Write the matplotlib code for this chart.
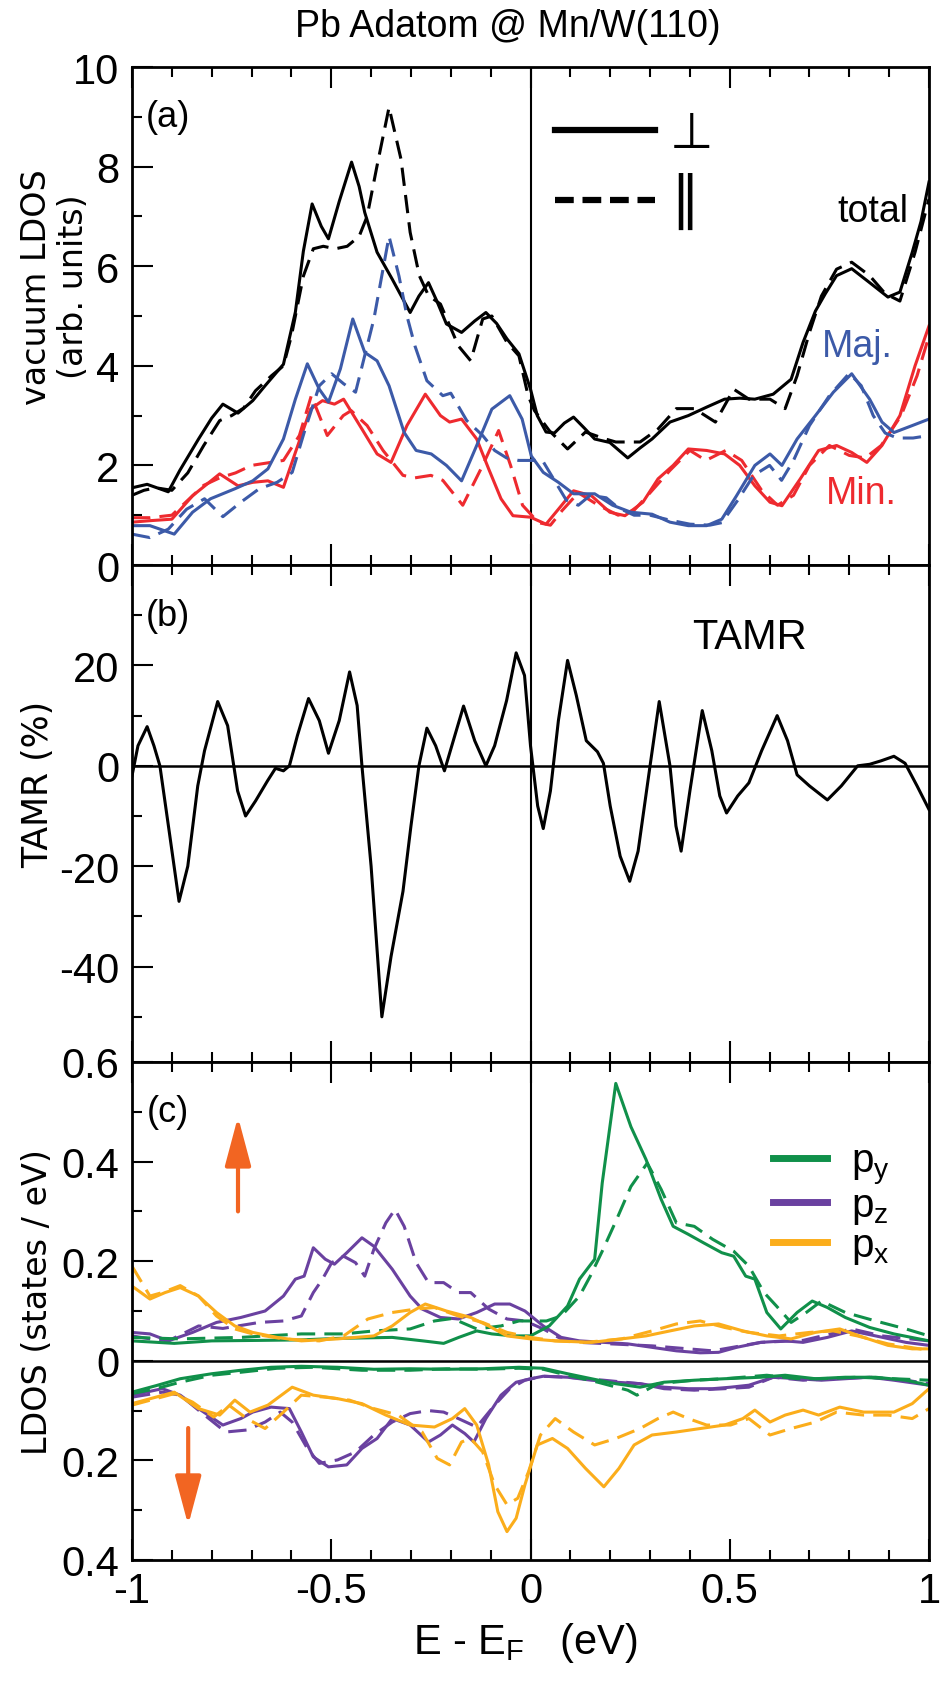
import numpy as np
import matplotlib
matplotlib.use("Agg")
import matplotlib.pyplot as plt
from matplotlib.lines import Line2D
from matplotlib.ticker import MultipleLocator, FixedLocator, FuncFormatter

plt.rcParams['font.family'] = ['Liberation Sans Narrow', 'Liberation Sans', 'DejaVu Sans']
plt.rcParams['mathtext.default'] = 'regular'
plt.rcParams['axes.unicode_minus'] = False

# ---------------- panel (a): vacuum LDOS ----------------
E_tot_perp = [-1.0, -0.962, -0.909, -0.88, -0.833, -0.80, -0.772, -0.734, -0.697, -0.666, -0.62, -0.59, -0.57,
              -0.548, -0.525, -0.507, -0.48, -0.449, -0.43, -0.416, -0.385, -0.347, -0.302, -0.28, -0.256, -0.235,
              -0.211, -0.173, -0.14, -0.112, -0.085, -0.059, -0.029, 0.0, 0.017, 0.039, 0.06, 0.085, 0.108, 0.135,
              0.161, 0.199, 0.244, 0.275, 0.305, 0.35, 0.396, 0.442, 0.487, 0.525, 0.563, 0.609, 0.654, 0.684,
              0.715, 0.74, 0.768, 0.806, 0.851, 0.897, 0.927, 0.958, 0.98, 1.0]
tot_perp = [1.55, 1.62, 1.47, 1.9, 2.53, 2.95, 3.23, 3.05, 3.3, 3.6, 4.03, 5.08, 6.3, 7.25, 6.8, 6.55, 7.3, 8.09,
            7.6, 7.08, 6.28, 5.74, 5.07, 5.4, 5.67, 5.3, 4.84, 4.67, 4.9, 5.07, 4.85, 4.54, 4.24, 3.53, 3.0, 2.67,
            2.65, 2.85, 2.97, 2.75, 2.53, 2.46, 2.15, 2.35, 2.53, 2.87, 3.0, 3.17, 3.33, 3.35, 3.33, 3.43, 3.73,
            4.47, 5.1, 5.45, 5.81, 5.95, 5.67, 5.38, 5.48, 6.28, 6.9, 7.69]

E_tot_par = [-1.0, -0.97, -0.94, -0.90, -0.86, -0.82, -0.78, -0.75, -0.72, -0.69, -0.65, -0.62, -0.60, -0.57,
             -0.545, -0.52, -0.49, -0.46, -0.43, -0.41, -0.385, -0.355, -0.325, -0.302, -0.279, -0.256, -0.226,
             -0.181, -0.15, -0.12, -0.097, -0.059, -0.029, -0.006, 0.01, 0.047, 0.093, 0.138, 0.184, 0.214, 0.275,
             0.32, 0.366, 0.411, 0.464, 0.51, 0.548, 0.601, 0.639, 0.669, 0.70, 0.73, 0.768, 0.806, 0.851, 0.89,
             0.927, 0.965, 1.0]
tot_par = [1.4, 1.5, 1.55, 1.5, 1.85, 2.4, 2.9, 3.0, 3.15, 3.5, 3.8, 4.0, 4.6, 5.8, 6.35, 6.4, 6.35, 6.4, 6.6,
           7.0, 8.02, 9.19, 8.15, 6.68, 5.81, 5.41, 5.24, 4.4, 4.1, 4.94, 5.0, 4.47, 4.2, 3.4, 3.1, 2.7, 2.33,
           2.67, 2.54, 2.47, 2.47, 2.73, 3.14, 3.14, 2.87, 3.53, 3.33, 3.33, 3.14, 3.8, 4.67, 5.4, 5.94, 6.08,
           5.81, 5.45, 5.3, 6.28, 7.35]

E_maj_perp = [-1.0, -0.955, -0.894, -0.848, -0.803, -0.742, -0.697, -0.659, -0.62, -0.59, -0.56, -0.53, -0.507,
              -0.477, -0.446, -0.416, -0.385, -0.355, -0.317, -0.287, -0.249, -0.211, -0.173, -0.135, -0.097,
              -0.052, -0.021, 0.002, 0.032, 0.07, 0.108, 0.161, 0.206, 0.252, 0.305, 0.35, 0.396, 0.442, 0.48,
              0.517, 0.563, 0.601, 0.631, 0.669, 0.715, 0.76, 0.806, 0.851, 0.882, 0.912, 0.958, 1.0]
maj_perp = [0.79, 0.79, 0.62, 1.06, 1.33, 1.53, 1.69, 1.93, 2.53, 3.33, 4.04, 3.53, 3.27, 3.94, 4.94, 4.27, 4.1,
            3.6, 2.66, 2.3, 2.23, 2.0, 1.69, 2.4, 3.13, 3.4, 2.93, 2.19, 1.86, 1.66, 1.43, 1.43, 1.2, 1.06, 1.02,
            0.86, 0.79, 0.79, 0.92, 1.39, 2.0, 2.23, 2.0, 2.53, 3.0, 3.47, 3.84, 3.33, 2.87, 2.66, 2.8, 2.93]

E_maj_par = [-1.0, -0.955, -0.909, -0.863, -0.818, -0.772, -0.727, -0.681, -0.636, -0.598, -0.568, -0.53, -0.499,
             -0.469, -0.439, -0.393, -0.355, -0.33, -0.31, -0.29, -0.26, -0.22, -0.20, -0.16, -0.12, -0.09, -0.06,
             -0.03, 0.0, 0.03, 0.06, 0.09, 0.12, 0.15, 0.19, 0.22, 0.26, 0.30, 0.35, 0.40, 0.45, 0.48, 0.52, 0.56,
             0.60, 0.63, 0.66, 0.70, 0.75, 0.80, 0.83, 0.86, 0.89, 0.92, 0.96, 1.0]
maj_par = [0.62, 0.55, 0.72, 1.12, 1.33, 0.97, 1.26, 1.53, 1.66, 1.86, 2.66, 3.6, 3.84, 3.64, 3.47, 4.94, 6.6,
           5.8, 5.0, 4.4, 3.7, 3.4, 3.45, 2.9, 2.6, 2.3, 2.15, 2.1, 2.1, 2.1, 1.7, 1.3, 1.2, 1.4, 1.35, 1.15, 1.0,
           1.0, 0.9, 0.82, 0.8, 0.85, 1.3, 1.8, 2.0, 1.7, 2.1, 2.8, 3.4, 3.85, 3.6, 3.0, 2.65, 2.55, 2.55, 2.6]

E_min_perp = [-1.0, -0.955, -0.90, -0.848, -0.78, -0.734, -0.697, -0.659, -0.62, -0.59, -0.552, -0.522, -0.492,
              -0.469, -0.423, -0.385, -0.35, -0.31, -0.264, -0.226, -0.203, -0.173, -0.135, -0.105, -0.074,
              -0.044, 0.0, 0.039, 0.07, 0.108, 0.153, 0.199, 0.237, 0.282, 0.32, 0.358, 0.396, 0.442, 0.487,
              0.525, 0.563, 0.601, 0.631, 0.677, 0.723, 0.768, 0.806, 0.844, 0.882, 0.927, 0.965, 1.0]
min_perp = [0.86, 0.89, 0.92, 1.39, 1.83, 1.59, 1.66, 1.69, 1.56, 2.26, 3.13, 3.3, 3.23, 3.33, 2.73, 2.23, 2.06,
            2.8, 3.43, 3.0, 2.87, 2.93, 2.53, 1.93, 1.33, 0.99, 0.96, 0.82, 1.12, 1.49, 1.39, 1.06, 0.99, 1.26,
            1.73, 2.0, 2.33, 2.3, 2.23, 2.0, 1.59, 1.26, 1.19, 1.73, 2.3, 2.4, 2.26, 2.06, 2.4, 3.0, 4.0, 4.8]

E_min_par = [-1.0, -0.955, -0.90, -0.86, -0.82, -0.78, -0.74, -0.70, -0.66, -0.62, -0.58, -0.55, -0.51, -0.47,
             -0.45, -0.41, -0.37, -0.32, -0.29, -0.25, -0.22, -0.17, -0.12, -0.08, -0.05, -0.02, 0.02, 0.05, 0.08,
             0.12, 0.17, 0.22, 0.26, 0.30, 0.35, 0.40, 0.44, 0.49, 0.53, 0.58, 0.62, 0.66, 0.70, 0.75, 0.80, 0.84,
             0.88, 0.93, 0.97, 1.0]
min_par = [0.95, 0.95, 1.0, 1.3, 1.6, 1.75, 1.85, 2.0, 2.05, 2.1, 2.6, 3.4, 2.6, 3.0, 3.1, 2.8, 2.3, 1.8, 1.75,
           1.8, 1.7, 1.2, 2.0, 2.7, 2.0, 1.2, 0.85, 0.8, 1.1, 1.45, 1.2, 1.0, 1.1, 1.45, 1.9, 2.3, 2.1, 2.3, 2.1,
           1.5, 1.2, 1.4, 2.0, 2.4, 2.2, 2.15, 2.4, 3.0, 3.8, 4.6]

# ---------------- panel (b): TAMR ----------------
E_tamr = [-1.0, -0.985, -0.962, -0.945, -0.93, -0.905, -0.882, -0.86, -0.835, -0.818, -0.785, -0.76, -0.735,
          -0.715, -0.69, -0.66, -0.64, -0.62, -0.605, -0.585, -0.557, -0.53, -0.507, -0.48, -0.454, -0.435,
          -0.423, -0.40, -0.373, -0.35, -0.32, -0.30, -0.28, -0.26, -0.238, -0.216, -0.19, -0.168, -0.14, -0.112,
          -0.09, -0.06, -0.036, -0.015, 0.0, 0.018, 0.032, 0.05, 0.07, 0.093, 0.115, 0.14, 0.168, 0.183, 0.20,
          0.225, 0.249, 0.27, 0.30, 0.323, 0.35, 0.365, 0.378, 0.40, 0.431, 0.455, 0.475, 0.492, 0.52, 0.548,
          0.58, 0.619, 0.645, 0.669, 0.70, 0.745, 0.78, 0.821, 0.851, 0.88, 0.912, 0.94, 0.97, 1.0]
tamr = [-2, 4, 7.8, 4, 0, -14, -27, -20, -4, 3, 12.8, 8, -5, -10, -7, -3, -0.5, -1, 0, 6, 13.4, 9, 2.5, 9, 18.7,
        12, 0, -20, -50, -38, -25, -12, 0, 7.5, 4, -1, 6, 11.9, 5, 0, 4, 13, 22.5, 18, 4, -8, -12.5, -5, 9, 21,
        14, 5, 2.8, 0.5, -8, -18, -23, -17, 0, 12.8, 0, -12, -17, -5, 11, 3, -6, -9.4, -6, -3.4, 3, 10, 5, -1.8,
        -4, -6.8, -4, 0, 0.3, 1, 1.9, 0.5, -4, -8.7]

# ---------------- panel (c): Pb p-orbital LDOS ----------------
E_py_up_perp = [-1.0, -0.894, -0.80, -0.68, -0.575, -0.484, -0.347, -0.27, -0.218, -0.18, -0.135, -0.097, -0.044,
                0.0, 0.047, 0.093, 0.123, 0.161, 0.18, 0.214, 0.252, 0.29, 0.328, 0.358, 0.396, 0.434, 0.48, 0.51,
                0.54, 0.563, 0.593, 0.628, 0.669, 0.707, 0.745, 0.79, 0.851, 0.912, 1.0]
py_up_perp = [0.04, 0.035, 0.04, 0.041, 0.042, 0.045, 0.047, 0.04, 0.035, 0.047, 0.06, 0.054, 0.05, 0.05, 0.07,
              0.11, 0.164, 0.204, 0.357, 0.557, 0.47, 0.404, 0.324, 0.27, 0.254, 0.237, 0.217, 0.21, 0.17, 0.164,
              0.097, 0.064, 0.097, 0.12, 0.107, 0.087, 0.067, 0.054, 0.04]

E_py_up_par = [-1.0, -0.88, -0.727, -0.575, -0.469, -0.393, -0.302, -0.241, -0.196, -0.135, -0.074, -0.029, 0.0,
               0.04, 0.077, 0.123, 0.15, 0.18, 0.214, 0.252, 0.293, 0.328, 0.366, 0.411, 0.457, 0.51, 0.548, 0.586,
               0.616, 0.654, 0.692, 0.73, 0.79, 0.866, 0.942, 1.0]
py_up_par = [0.047, 0.044, 0.047, 0.054, 0.054, 0.06, 0.064, 0.08, 0.085, 0.064, 0.07, 0.08, 0.08, 0.08, 0.09,
             0.13, 0.17, 0.22, 0.28, 0.35, 0.397, 0.344, 0.277, 0.27, 0.244, 0.22, 0.19, 0.137, 0.111, 0.077,
             0.097, 0.12, 0.097, 0.08, 0.064, 0.05]

E_pz_up_perp = [-1.0, -0.955, -0.909, -0.848, -0.788, -0.727, -0.666, -0.62, -0.59, -0.568, -0.545, -0.515,
                -0.492, -0.461, -0.423, -0.393, -0.347, -0.302, -0.272, -0.226, -0.181, -0.135, -0.09, -0.052,
                -0.014, 0.032, 0.077, 0.123, 0.184, 0.244, 0.305, 0.366, 0.426, 0.472, 0.517, 0.578, 0.639, 0.684,
                0.745, 0.806, 0.866, 0.942, 1.0]
pz_up_perp = [0.057, 0.054, 0.04, 0.057, 0.077, 0.087, 0.1, 0.13, 0.164, 0.17, 0.227, 0.204, 0.194, 0.217, 0.247,
              0.23, 0.184, 0.13, 0.104, 0.087, 0.084, 0.097, 0.114, 0.114, 0.1, 0.07, 0.047, 0.04, 0.037, 0.034,
              0.027, 0.02, 0.016, 0.017, 0.027, 0.037, 0.04, 0.037, 0.047, 0.06, 0.05, 0.037, 0.031]

E_pz_up_par = [-1.0, -0.955, -0.909, -0.833, -0.772, -0.681, -0.62, -0.575, -0.545, -0.522, -0.499, -0.469,
               -0.439, -0.416, -0.393, -0.363, -0.34, -0.317, -0.287, -0.256, -0.218, -0.181, -0.15, -0.105,
               -0.059, -0.014, 0.032, 0.077, 0.123, 0.305, 0.457, 0.578, 0.684, 0.806, 0.882, 1.0]
pz_up_par = [0.05, 0.044, 0.04, 0.07, 0.065, 0.077, 0.08, 0.09, 0.137, 0.164, 0.197, 0.21, 0.197, 0.17, 0.224,
             0.277, 0.304, 0.27, 0.197, 0.157, 0.157, 0.137, 0.137, 0.104, 0.084, 0.08, 0.064, 0.044, 0.037,
             0.03, 0.02, 0.037, 0.041, 0.064, 0.05, 0.04]

E_px_up_perp = [-1.0, -0.955, -0.917, -0.879, -0.833, -0.788, -0.742, -0.697, -0.636, -0.575, -0.484, -0.393,
                -0.347, -0.302, -0.264, -0.211, -0.15, -0.105, -0.059, 0.0, 0.062, 0.153, 0.229, 0.29, 0.35, 0.411,
                0.472, 0.533, 0.593, 0.654, 0.715, 0.776, 0.836, 0.897, 0.958, 1.0]
px_up_perp = [0.15, 0.124, 0.137, 0.147, 0.13, 0.097, 0.07, 0.057, 0.047, 0.04, 0.044, 0.05, 0.07, 0.097, 0.114,
              0.1, 0.087, 0.07, 0.05, 0.044, 0.04, 0.037, 0.044, 0.05, 0.06, 0.07, 0.074, 0.06, 0.05, 0.044, 0.057,
              0.064, 0.047, 0.031, 0.024, 0.024]

E_px_up_par = [-1.0, -0.955, -0.924, -0.879, -0.833, -0.788, -0.742, -0.697, -0.62, -0.53, -0.469, -0.408,
               -0.347, -0.287, -0.241, -0.181, -0.12, -0.059, 0.0, 0.062, 0.138, 0.229, 0.305, 0.366, 0.426,
               0.487, 0.548, 0.624, 0.7, 0.76, 0.82, 0.897, 1.0]
px_up_par = [0.19, 0.13, 0.137, 0.151, 0.13, 0.09, 0.064, 0.054, 0.044, 0.04, 0.05, 0.084, 0.097, 0.104, 0.107,
             0.09, 0.077, 0.057, 0.047, 0.04, 0.037, 0.044, 0.06, 0.074, 0.08, 0.067, 0.057, 0.05, 0.057, 0.06,
             0.05, 0.034, 0.021]

# spin down (drawn downwards)
E_py_dn_perp = [-1.0, -0.94, -0.879, -0.80, -0.727, -0.651, -0.575, -0.484, -0.393, -0.302, -0.211, -0.12, -0.029,
                0.032, 0.093, 0.153, 0.214, 0.275, 0.335, 0.411, 0.487, 0.578, 0.639, 0.715, 0.79, 0.866, 0.942, 1.0]
py_dn_perp = [-0.063, -0.05, -0.036, -0.026, -0.019, -0.013, -0.011, -0.013, -0.017, -0.016, -0.017, -0.016,
              -0.013, -0.015, -0.026, -0.036, -0.046, -0.053, -0.043, -0.039, -0.036, -0.033, -0.029, -0.036,
              -0.033, -0.033, -0.039, -0.049]

E_py_dn_par = [-1.0, -0.94, -0.879, -0.80, -0.727, -0.636, -0.545, -0.423, -0.302, -0.211, -0.12, -0.029, 0.032,
               0.093, 0.169, 0.244, 0.267, 0.32, 0.411, 0.487, 0.593, 0.669, 0.73, 0.82, 0.912, 1.0]
py_dn_par = [-0.066, -0.056, -0.043, -0.029, -0.023, -0.015, -0.013, -0.019, -0.019, -0.016, -0.017, -0.015,
             -0.017, -0.029, -0.043, -0.059, -0.069, -0.046, -0.039, -0.036, -0.029, -0.036, -0.036, -0.033,
             -0.036, -0.039]

E_pz_dn_perp = [-1.0, -0.924, -0.879, -0.833, -0.772, -0.727, -0.697, -0.651, -0.605, -0.575, -0.545, -0.507,
                -0.461, -0.423, -0.385, -0.347, -0.302, -0.256, -0.226, -0.196, -0.165, -0.142, -0.112, -0.074,
                -0.036, 0.0, 0.032, 0.093, 0.153, 0.214, 0.275, 0.335, 0.396, 0.457, 0.502, 0.548, 0.609, 0.669,
                0.73, 0.79, 0.851, 0.912, 1.0]
pz_dn_perp = [-0.069, -0.056, -0.069, -0.096, -0.129, -0.116, -0.103, -0.093, -0.096, -0.143, -0.193, -0.213,
              -0.209, -0.176, -0.156, -0.116, -0.129, -0.163, -0.149, -0.129, -0.146, -0.163, -0.116, -0.069,
              -0.043, -0.036, -0.031, -0.033, -0.039, -0.043, -0.046, -0.053, -0.056, -0.056, -0.053, -0.049,
              -0.033, -0.036, -0.039, -0.036, -0.033, -0.039, -0.049]

E_pz_dn_par = [-1.0, -0.924, -0.879, -0.818, -0.765, -0.712, -0.666, -0.628, -0.598, -0.56, -0.53, -0.484, -0.439,
               -0.393, -0.347, -0.302, -0.256, -0.218, -0.181, -0.135, -0.09, -0.052, -0.014, 0.032, 0.093, 0.184,
               0.275, 0.335, 0.411, 0.487, 0.548, 0.609, 0.684, 0.76, 0.851, 0.942, 1.0]
pz_dn_par = [-0.073, -0.063, -0.069, -0.109, -0.143, -0.139, -0.123, -0.103, -0.123, -0.176, -0.206, -0.199,
             -0.183, -0.149, -0.123, -0.106, -0.1, -0.103, -0.116, -0.133, -0.089, -0.056, -0.039, -0.031,
             -0.033, -0.039, -0.046, -0.056, -0.059, -0.056, -0.053, -0.033, -0.039, -0.036, -0.033, -0.039, -0.046]

E_px_dn_perp = [-1.0, -0.94, -0.894, -0.833, -0.78, -0.742, -0.704, -0.659, -0.598, -0.545, -0.484, -0.423, -0.363,
                -0.302, -0.241, -0.196, -0.165, -0.135, -0.105, -0.082, -0.059, -0.036, -0.014, 0.017, 0.055, 0.093,
                0.138, 0.184, 0.222, 0.26, 0.305, 0.366, 0.426, 0.487, 0.533, 0.563, 0.601, 0.639, 0.684, 0.723,
                0.776, 0.836, 0.912, 0.958, 1.0]
px_dn_perp = [-0.086, -0.073, -0.063, -0.096, -0.109, -0.079, -0.103, -0.089, -0.053, -0.069, -0.076, -0.086,
              -0.109, -0.129, -0.133, -0.116, -0.096, -0.129, -0.209, -0.303, -0.343, -0.316, -0.249, -0.169,
              -0.156, -0.176, -0.216, -0.253, -0.216, -0.169, -0.149, -0.143, -0.136, -0.129, -0.116, -0.099,
              -0.123, -0.109, -0.099, -0.109, -0.093, -0.103, -0.103, -0.086, -0.056]

E_px_dn_par = [-1.0, -0.94, -0.894, -0.848, -0.795, -0.757, -0.712, -0.666, -0.62, -0.575, -0.515, -0.454, -0.393,
               -0.332, -0.272, -0.234, -0.203, -0.173, -0.15, -0.12, -0.09, -0.059, -0.032, -0.005, 0.025, 0.062,
               0.108, 0.161, 0.214, 0.275, 0.32, 0.358, 0.396, 0.442, 0.502, 0.548, 0.601, 0.654, 0.715, 0.768,
               0.836, 0.897, 0.958, 1.0]
px_dn_par = [-0.089, -0.076, -0.066, -0.083, -0.113, -0.089, -0.116, -0.136, -0.103, -0.069, -0.073, -0.079,
             -0.096, -0.109, -0.143, -0.196, -0.209, -0.163, -0.156, -0.183, -0.249, -0.289, -0.276, -0.223,
             -0.149, -0.116, -0.143, -0.169, -0.156, -0.136, -0.116, -0.103, -0.116, -0.129, -0.129, -0.116,
             -0.149, -0.136, -0.123, -0.103, -0.109, -0.109, -0.116, -0.096]

# colours
c_blue = '#3c5aa8'
c_red = '#ee2a2f'
c_green = '#10904a'
c_purple = '#6a41a0'
c_orange = '#fbad1b'
c_arrow = '#f26522'

W, H = 946, 1690
fig = plt.figure(figsize=(W / 100, H / 100), dpi=100)

left, right = 132, 929
def add_panel(top, bottom):
    return fig.add_axes([left / W, 1 - bottom / H, (right - left) / W, (bottom - top) / H])

ax_a = add_panel(68, 566)
ax_b = add_panel(566, 1063)
ax_c = add_panel(1063, 1561)

tick_fs = 30
dash = (6, 3)
lw = 2.2

for ax in (ax_a, ax_b, ax_c):
    ax.set_xlim(-1, 1)
    ax.xaxis.set_major_locator(MultipleLocator(0.5))
    ax.xaxis.set_minor_locator(MultipleLocator(0.1))
    ax.tick_params(which='both', direction='in', top=True, bottom=True, left=True, right=False,
                   width=1.5, labelsize=tick_fs)
    ax.tick_params(which='major', length=15)
    ax.tick_params(which='minor', length=7)
    ax.tick_params(axis='y', pad=9)
    ax.tick_params(axis='x', pad=8)
    for s in ax.spines.values():
        s.set_linewidth(2.0)
    ax.axvline(0, color='black', lw=1.5, zorder=1)
    if ax is not ax_c:
        ax.tick_params(axis='x', labelbottom=False)

ax_c.xaxis.set_major_formatter(FuncFormatter(lambda v, p: f'{v:g}'))

# ---- panel (a)
ax_a.plot(E_tot_perp, tot_perp, color='black', lw=lw)
ax_a.plot(E_tot_par, tot_par, color='black', lw=lw, dashes=dash)
ax_a.plot(E_min_perp, min_perp, color=c_red, lw=lw)
ax_a.plot(E_min_par, min_par, color=c_red, lw=lw, dashes=dash)
ax_a.plot(E_maj_perp, maj_perp, color=c_blue, lw=lw)
ax_a.plot(E_maj_par, maj_par, color=c_blue, lw=lw, dashes=dash)
ax_a.set_ylim(0, 10)
ax_a.yaxis.set_major_locator(MultipleLocator(2))
ax_a.yaxis.set_minor_locator(MultipleLocator(1))
ax_a.text(-0.91, 9.0, '(a)', fontsize=26, ha='center', va='center')
ax_a.text(0.86, 7.1, 'total', fontsize=27, ha='center', va='center')
ax_a.text(0.82, 4.4, 'Maj.', fontsize=27, ha='center', va='center', color=c_blue)
ax_a.text(0.83, 1.45, 'Min.', fontsize=27, ha='center', va='center', color=c_red)
h_perp = Line2D([], [], color='black', lw=4.5)
h_par = Line2D([], [], color='black', lw=4.5, dashes=(3, 1.4))
leg_a = ax_a.legend([h_perp, h_par], ['\u22a5', '\u2225'], loc='center left', bbox_to_anchor=(0.531, 0.795),
                    frameon=False, borderpad=0, borderaxespad=0, handlelength=2.0, handletextpad=0.3,
                    labelspacing=0.3, prop={'family': 'DejaVu Sans', 'size': 36})
leg_a.get_texts()[1].set_fontsize(42)
ax_a.set_ylabel('vacuum LDOS\n(arb. units)', family='DejaVu Sans', fontsize=24, ha='center', va='center',
                linespacing=1.15)
ax_a.yaxis.set_label_coords(-0.097, 0.56)

# ---- panel (b)
ax_b.axhline(0, color='black', lw=1.8, zorder=1)
ax_b.plot(E_tamr, tamr, color='black', lw=lw)
ax_b.set_ylim(-59, 40)
ax_b.yaxis.set_major_locator(FixedLocator([-40, -20, 0, 20]))
ax_b.yaxis.set_minor_locator(FixedLocator([-50, -30, -10, 10, 30]))
ax_b.text(-0.91, 30, '(b)', fontsize=26, ha='center', va='center')
ax_b.text(0.55, 25.7, 'TAMR', fontsize=30, ha='center', va='center')
ax_b.set_ylabel('TAMR (%)', family='DejaVu Sans', fontsize=25, ha='center', va='center')
ax_b.yaxis.set_label_coords(-0.118, 0.56)

# ---- panel (c)
ax_c.axhline(0, color='black', lw=1.8, zorder=1)
ax_c.plot(E_pz_up_perp, pz_up_perp, color=c_purple, lw=lw)
ax_c.plot(E_pz_up_par, pz_up_par, color=c_purple, lw=lw, dashes=dash)
ax_c.plot(E_pz_dn_perp, pz_dn_perp, color=c_purple, lw=lw)
ax_c.plot(E_pz_dn_par, pz_dn_par, color=c_purple, lw=lw, dashes=dash)
ax_c.plot(E_py_up_perp, py_up_perp, color=c_green, lw=lw)
ax_c.plot(E_py_up_par, py_up_par, color=c_green, lw=lw, dashes=dash)
ax_c.plot(E_py_dn_perp, py_dn_perp, color=c_green, lw=lw)
ax_c.plot(E_py_dn_par, py_dn_par, color=c_green, lw=lw, dashes=dash)
ax_c.plot(E_px_up_perp, px_up_perp, color=c_orange, lw=lw)
ax_c.plot(E_px_up_par, px_up_par, color=c_orange, lw=lw, dashes=dash)
ax_c.plot(E_px_dn_perp, px_dn_perp, color=c_orange, lw=lw)
ax_c.plot(E_px_dn_par, px_dn_par, color=c_orange, lw=lw, dashes=dash)
ax_c.set_ylim(-0.4, 0.6)
ax_c.yaxis.set_major_locator(MultipleLocator(0.2))
ax_c.yaxis.set_minor_locator(MultipleLocator(0.1))
ax_c.yaxis.set_major_formatter(FuncFormatter(lambda v, p: f'{abs(round(v, 2)):g}'))
ax_c.text(-0.91, 0.5, '(c)', fontsize=26, ha='center', va='center')
arrow_kw = dict(arrowstyle='-|>,head_length=1.5,head_width=0.4', color=c_arrow, lw=3,
                mutation_scale=20, shrinkA=0, shrinkB=0)
ax_c.annotate('', xy=(-0.734, 0.49), xytext=(-0.734, 0.30), arrowprops=arrow_kw)
ax_c.annotate('', xy=(-0.859, -0.33), xytext=(-0.859, -0.135), arrowprops=arrow_kw)
hands = [Line2D([], [], color=c, lw=5) for c in (c_green, c_purple, c_orange)]
ax_c.legend(hands, ['p$_y$', 'p$_z$', 'p$_x$'], loc='center left', bbox_to_anchor=(0.804, 0.715),
            frameon=False, borderpad=0, borderaxespad=0, handlelength=1.35, handletextpad=0.6,
            labelspacing=0.0, fontsize=29)
ax_c.set_ylabel('LDOS (states / eV)', family='DejaVu Sans', fontsize=24, ha='center', va='center')
ax_c.yaxis.set_label_coords(-0.118, 0.52)
ax_c.set_xlabel('E - E$_F$   (eV)', fontsize=30, ha='center', va='center')
ax_c.xaxis.set_label_coords(0.493, -0.165)

fig.text(508 / W, 1 - 27 / H, 'Pb Adatom @ Mn/W(110)', fontsize=27, ha='center', va='center')

fig.savefig('out.png', dpi=100)
